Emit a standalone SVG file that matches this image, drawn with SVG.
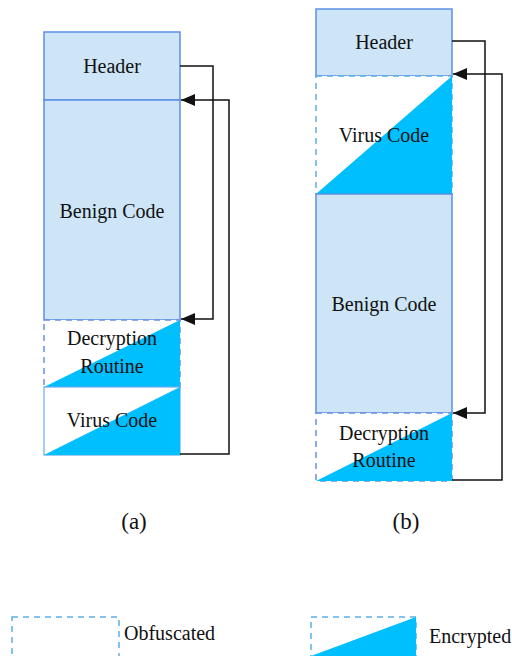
<svg xmlns="http://www.w3.org/2000/svg" width="512" height="656" viewBox="0 0 512 656">
  <style>
    .plain { fill: #cde5f7; stroke: #5b8ee6; stroke-width: 1.5; }
    .obf { fill: #ffffff; stroke: #6a90e2; stroke-width: 1.5; stroke-dasharray: 6 5; }
    .obf2 { fill: #ffffff; stroke: #5aaee8; stroke-width: 1.5; stroke-dasharray: 6 5; }
    .enc { fill: #00bfff; stroke: none; }
    .solid { fill: #ffffff; stroke: #6aaaf0; stroke-width: 1.2; }
    .lbl { font-family: "Liberation Serif", "Times New Roman", "DejaVu Serif", serif; font-size: 20px; fill: #111; text-anchor: middle; }
    .cap { font-family: "Liberation Serif", "Times New Roman", "DejaVu Serif", serif; font-size: 23px; fill: #111; text-anchor: middle; }
    .leg { font-family: "Liberation Serif", "Times New Roman", "DejaVu Serif", serif; font-size: 20px; fill: #111; }
    .wire { fill: none; stroke: #111; stroke-width: 1.5; }
  </style>
  <defs>
    <marker id="arrow" viewBox="0 0 14 12" refX="14" refY="6" markerWidth="14" markerHeight="12" markerUnits="userSpaceOnUse" orient="auto">
      <path d="M0,0 L14,6 L0,12 z" fill="#111"/>
    </marker>
  </defs>

  <!-- (a) layout -->
  <g id="a-header">
    <rect class="plain" x="44" y="32" width="136" height="68"/>
    <text class="lbl" x="112" y="73">Header</text>
  </g>
  <g id="a-benign">
    <rect class="plain" x="44" y="100" width="136" height="220"/>
    <text class="lbl" x="112" y="218">Benign Code</text>
  </g>
  <g id="a-decrypt">
    <rect class="obf" x="44" y="320" width="136" height="67"/>
    <polygon class="enc" points="44,387 180,320 180,387"/>
    <text class="lbl" x="112" y="345">Decryption</text>
    <text class="lbl" x="112" y="373">Routine</text>
  </g>
  <g id="a-virus">
    <rect class="solid" x="44" y="387" width="136" height="68"/>
    <polygon class="enc" points="44,455 180,387 180,455"/>
    <text class="lbl" x="112" y="427">Virus Code</text>
  </g>

  <!-- (b) layout -->
  <g id="b-header">
    <rect class="plain" x="316" y="9" width="136" height="67"/>
    <text class="lbl" x="384" y="49">Header</text>
  </g>
  <g id="b-virus">
    <rect class="obf2" x="316" y="76" width="136" height="118"/>
    <polygon class="enc" points="316,194 452,76 452,194"/>
    <text class="lbl" x="384" y="142">Virus Code</text>
  </g>
  <g id="b-benign">
    <rect class="plain" x="316" y="194" width="136" height="219"/>
    <text class="lbl" x="384" y="311">Benign Code</text>
  </g>
  <g id="b-decrypt">
    <rect class="obf" x="316" y="413" width="136" height="68"/>
    <polygon class="enc" points="316,481 452,413 452,481"/>
    <text class="lbl" x="384" y="440">Decryption</text>
    <text class="lbl" x="384" y="467">Routine</text>
  </g>

  <!-- control-flow connectors -->
  <g id="connectors">
    <polyline class="wire" points="180,66 213,66 213,319 181,319" marker-end="url(#arrow)"/>
    <polyline class="wire" points="180,454 229,454 229,100 181,100" marker-end="url(#arrow)"/>
    <polyline class="wire" points="452,41 485,41 485,413 453,413" marker-end="url(#arrow)"/>
    <polyline class="wire" points="452,480 502,480 502,74 453,74" marker-end="url(#arrow)"/>
  </g>

  <!-- captions -->
  <text class="cap" x="134" y="529">(a)</text>
  <text class="cap" x="406" y="529">(b)</text>

  <!-- legend -->
  <g id="legend-obfuscated">
    <rect class="obf2" x="12" y="617" width="107" height="60"/>
    <text class="leg" x="124" y="640">Obfuscated</text>
  </g>
  <g id="legend-encrypted">
    <rect class="obf2" x="311" y="617" width="105" height="60"/>
    <polygon class="enc" points="311,656 416,617 416,656"/>
    <text class="leg" x="429" y="643">Encrypted</text>
  </g>
</svg>
